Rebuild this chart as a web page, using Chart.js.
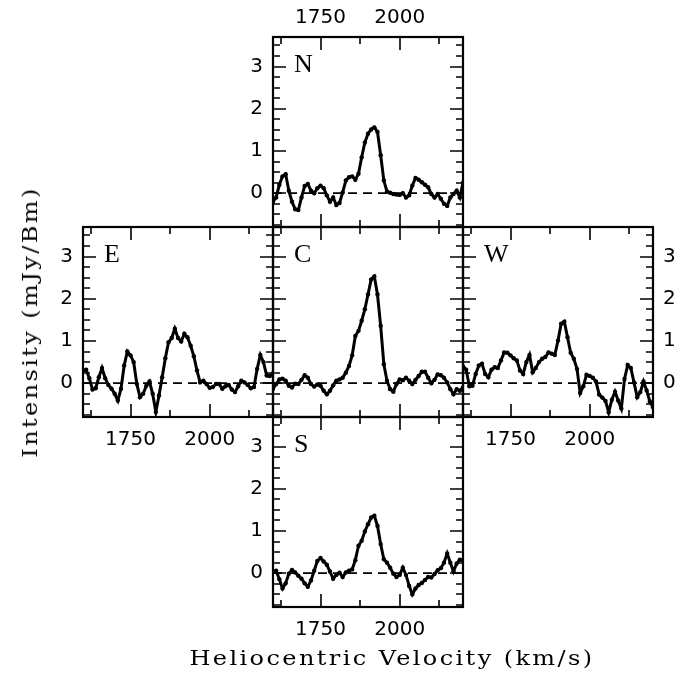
<!DOCTYPE html>
<html>
<head>
<meta charset="utf-8">
<script src="https://cdn.jsdelivr.net/npm/chart.js@4.4.0/dist/chart.umd.min.js"></script>
<style>
  html, body { margin: 0; padding: 0; background: #fff; }
  #wrap { position: relative; width: 684px; height: 679px; overflow: hidden; background: #fff; }
  canvas { position: absolute; left: 0; top: 0; }
  .title { position: absolute; font-family: "DejaVu Serif", serif; font-size: 20px; line-height: 20px;
           color: #000; white-space: nowrap; letter-spacing: 2px; }
  #xtitle { left: 392px; top: 648px; transform: translateX(-50%) scaleX(1.2); }
  #ytitle { left: 30px; top: 322px; transform: translate(-50%, -50%) rotate(-90deg) scaleX(1.2); }
</style>
</head>
<body>
<div id="wrap">
  <canvas id="panel-n" width="684" height="679"></canvas>
  <canvas id="panel-e" width="684" height="679"></canvas>
  <canvas id="panel-c" width="684" height="679"></canvas>
  <canvas id="panel-w" width="684" height="679"></canvas>
  <canvas id="panel-s" width="684" height="679"></canvas>
  <div class="title" id="xtitle">Heliocentric Velocity (km/s)</div>
  <div class="title" id="ytitle">Intensity (mJy/Bm)</div>
</div>
<script>
// velocity channels (km/s), shared by all five positions
const velocity = [
  1600, 1610, 1620, 1630, 1640, 1650, 1660, 1670, 1680, 1690,
  1700, 1710, 1720, 1730, 1740, 1750, 1760, 1770, 1780, 1790,
  1800, 1810, 1820, 1830, 1840, 1850, 1860, 1870, 1880, 1890,
  1900, 1910, 1920, 1930, 1940, 1950, 1960, 1970, 1980, 1990,
  2000, 2010, 2020, 2030, 2040, 2050, 2060, 2070, 2080, 2090,
  2100, 2110, 2120, 2130, 2140, 2150, 2160, 2170, 2180, 2190, 2200
];

// intensity in mJy/Bm
const intensityN = [
  -0.2, -0.1, 0.2, 0.4, 0.45, 0.06, -0.2, -0.38, -0.4, -0.1,
  0.17, 0.22, 0.06, 0.0, 0.12, 0.18, 0.12, -0.05, -0.2, -0.1,
  -0.28, -0.23, 0.02, 0.3, 0.38, 0.4, 0.32, 0.46, 0.85, 1.2,
  1.41, 1.51, 1.56, 1.45, 0.9, 0.3, 0.04, 0.01, -0.02, -0.03,
  -0.04, 0.0, -0.1, -0.05, 0.18, 0.36, 0.32, 0.26, 0.2, 0.14,
  -0.02, -0.1, -0.02, -0.13, -0.25, -0.3, -0.1, -0.02, 0.06, -0.1, 0.25
];
const intensityE = [
  0.3, 0.32, 0.12, -0.15, -0.12, 0.14, 0.36, 0.12, -0.04, -0.13,
  -0.25, -0.41, -0.13, 0.42, 0.75, 0.66, 0.5, -0.02, -0.33, -0.25,
  -0.06, 0.04, -0.25, -0.68, -0.29, 0.14, 0.59, 0.97, 1.07, 1.29,
  1.07, 0.99, 1.17, 1.09, 0.89, 0.64, 0.3, 0.02, 0.06, -0.02,
  -0.11, -0.09, -0.02, -0.02, -0.13, -0.07, -0.04, -0.15, -0.21, -0.07,
  0.06, 0.02, -0.04, -0.12, -0.09, 0.34, 0.67, 0.5, 0.18, 0.17, 0.24
];
const intensityC = [
  -0.13, -0.02, 0.09, 0.11, 0.06, -0.06, -0.1, -0.01, -0.02, 0.08,
  0.19, 0.13, -0.02, -0.08, -0.03, -0.06, -0.18, -0.26, -0.18, -0.05,
  0.06, 0.09, 0.13, 0.25, 0.41, 0.66, 1.12, 1.24, 1.48, 1.75,
  2.1, 2.46, 2.53, 2.1, 1.36, 0.45, 0.06, -0.14, -0.2, -0.02,
  0.09, 0.07, 0.13, 0.06, -0.02, 0.08, 0.17, 0.27, 0.27, 0.13,
  0.0, 0.08, 0.21, 0.19, 0.13, 0.02, -0.14, -0.26, -0.14, -0.18, -0.1
];
const intensityW = [
  0.4, 0.32, -0.07, -0.06, 0.22, 0.42, 0.46, 0.22, 0.14, 0.32,
  0.38, 0.36, 0.54, 0.73, 0.72, 0.66, 0.59, 0.54, 0.3, 0.22,
  0.5, 0.67, 0.26, 0.36, 0.5, 0.58, 0.62, 0.73, 0.7, 0.67,
  1.01, 1.41, 1.46, 1.09, 0.72, 0.58, 0.34, -0.23, -0.07, 0.2,
  0.17, 0.13, 0.04, -0.27, -0.34, -0.42, -0.69, -0.39, -0.2, -0.41,
  -0.6, 0.1, 0.43, 0.36, 0.02, -0.33, -0.21, 0.04, -0.17, -0.43, -0.57
];
const intensityS = [
  0.04, 0.06, -0.14, -0.36, -0.24, -0.01, 0.08, 0.02, -0.06, -0.13,
  -0.24, -0.32, -0.17, 0.06, 0.29, 0.36, 0.28, 0.2, 0.04, -0.13,
  -0.04, 0.01, -0.09, 0.02, 0.06, 0.09, 0.31, 0.65, 0.77, 0.99,
  1.16, 1.32, 1.36, 1.12, 0.69, 0.33, 0.25, 0.13, -0.01, -0.09,
  -0.04, 0.13, -0.04, -0.3, -0.5, -0.36, -0.28, -0.23, -0.16, -0.09,
  -0.1, -0.02, 0.07, 0.12, 0.25, 0.47, 0.25, 0.04, 0.23, 0.32, 0.31
];

// tick values
const xMajor = [1750, 2000];
const xMinor = [1625, 1875, 2125];
const yMajor = [0, 1, 2, 3];
const yMinor = [-0.75, -0.5, -0.25, 0.25, 0.5, 0.75, 1.25, 1.5, 1.75, 2.25, 2.5, 2.75, 3.25, 3.5];

const W = 684, H = 679, SIZE = 190, AX = 34;

// box, inward ticks on all four sides, and the position letter
const framePlugin = {
  id: 'frame',
  afterDatasetsDraw(chart, args, opts) {
    const { ctx, chartArea: a, scales: { x, y } } = chart;
    ctx.save();
    ctx.strokeStyle = '#000';
    ctx.lineWidth = 1.6;
    ctx.beginPath();
    const xt = (vals, len) => vals.forEach(v => {
      const px = Math.round(x.getPixelForValue(v));
      ctx.moveTo(px, a.top); ctx.lineTo(px, a.top + len);
      ctx.moveTo(px, a.bottom); ctx.lineTo(px, a.bottom - len);
    });
    const yt = (vals, len) => vals.forEach(v => {
      const py = Math.round(y.getPixelForValue(v));
      ctx.moveTo(a.left, py); ctx.lineTo(a.left + len, py);
      ctx.moveTo(a.right, py); ctx.lineTo(a.right - len, py);
    });
    xt(xMajor, 13); xt(xMinor, 7);
    yt(yMajor, 13); yt(yMinor, 7);
    ctx.stroke();
    ctx.lineWidth = 2.2;
    ctx.strokeRect(a.left, a.top, a.width, a.height);
    ctx.fillStyle = '#000';
    ctx.font = '26px "Liberation Serif"';
    ctx.textBaseline = 'alphabetic';
    ctx.fillText(opts.letter, a.left + 21, a.top + 35);
    ctx.restore();
  }
};

function makePanel(p) {
  const tickFont = { family: 'DejaVu Sans', size: 20 };
  new Chart(document.getElementById(p.id), {
    type: 'line',
    data: {
      datasets: [{
        data: velocity.map((v, i) => ({ x: v, y: p.values[i] })),
        borderColor: '#000',
        borderWidth: 3,
        pointRadius: 2.2,
        pointBackgroundColor: '#000',
        pointBorderWidth: 0,
        tension: 0
      }, {
        data: [{ x: 1600, y: 0 }, { x: 2200, y: 0 }],
        borderColor: '#000',
        borderWidth: 1.8,
        borderDash: [9, 6],
        pointRadius: 0
      }]
    },
    options: {
      responsive: false,
      animation: false,
      devicePixelRatio: 1,
      layout: {
        padding: {
          left: p.left - (p.yPos === 'left' ? AX : 0),
          right: W - p.left - SIZE - (p.yPos === 'right' ? AX : 0),
          top: p.top - (p.xPos === 'top' ? AX : 0),
          bottom: H - p.top - SIZE - (p.xPos === 'bottom' ? AX : 0)
        }
      },
      scales: {
        x: {
          type: 'linear', min: 1600, max: 2200, position: p.xPos,
          afterBuildTicks: s => { s.ticks = xMajor.map(v => ({ value: v })); },
          afterFit: s => { s.height = AX; },
          grid: { display: false, drawTicks: false },
          border: { display: false },
          ticks: {
            display: p.xLabels, color: '#000', font: tickFont, padding: p.xPos === 'top' ? 7 : 11,
            maxRotation: 0, autoSkip: false, callback: v => String(v)
          }
        },
        y: {
          type: 'linear', min: -0.8, max: 3.7, position: p.yPos,
          afterBuildTicks: s => { s.ticks = yMajor.map(v => ({ value: v })); },
          afterFit: s => { s.width = AX; },
          grid: { display: false, drawTicks: false },
          border: { display: false },
          ticks: { display: p.yLabels, color: '#000', font: tickFont, padding: 10, callback: v => String(v) }
        }
      },
      plugins: {
        legend: { display: false },
        tooltip: { enabled: false },
        frame: { letter: p.letter }
      }
    },
    plugins: [framePlugin]
  });
}

[
  { id: 'panel-n', letter: 'N', values: intensityN, left: 273, top: 37, xPos: 'top', xLabels: true, yPos: 'left', yLabels: true },
  { id: 'panel-e', letter: 'E', values: intensityE, left: 83, top: 227, xPos: 'bottom', xLabels: true, yPos: 'left', yLabels: true },
  { id: 'panel-c', letter: 'C', values: intensityC, left: 273, top: 227, xPos: 'bottom', xLabels: false, yPos: 'left', yLabels: false },
  { id: 'panel-w', letter: 'W', values: intensityW, left: 463, top: 227, xPos: 'bottom', xLabels: true, yPos: 'right', yLabels: true },
  { id: 'panel-s', letter: 'S', values: intensityS, left: 273, top: 417, xPos: 'bottom', xLabels: true, yPos: 'left', yLabels: true }
].forEach(makePanel);
</script>
</body>
</html>
